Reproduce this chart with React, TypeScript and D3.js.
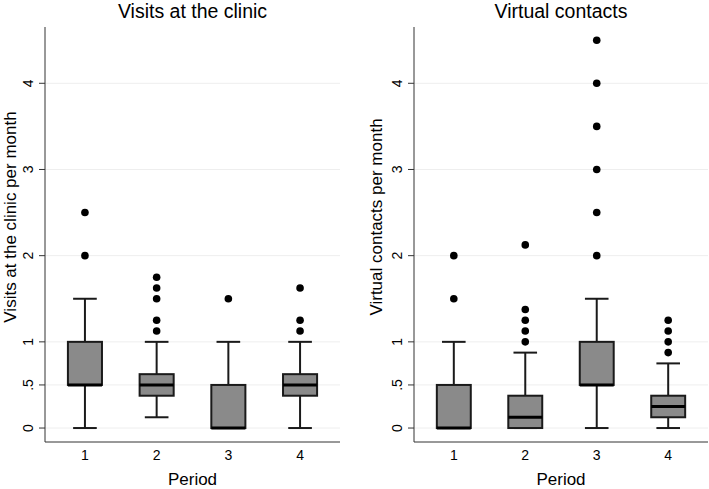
import React from "react";
import * as d3 from "d3";

const periods = ["1", "2", "3", "4"];
const yTicks = [0, 0.5, 1, 2, 3, 4];
const yTickLabels = ["0", ".5", "1", "2", "3", "4"];

// [lowWhisker, q1, median, q3, highWhisker]
const clinicStats = [
  [0, 0.5, 0.5, 1, 1.5],
  [0.125, 0.375, 0.5, 0.625, 1],
  [0, 0, 0, 0.5, 1],
  [0, 0.375, 0.5, 0.625, 1],
];
const clinicOutliers = [
  [2, 2.5],
  [1.125, 1.25, 1.5, 1.625, 1.75],
  [1.5],
  [1.125, 1.25, 1.625],
];

const virtualStats = [
  [0, 0, 0, 0.5, 1],
  [0, 0, 0.125, 0.375, 0.875],
  [0, 0.5, 0.5, 1, 1.5],
  [0, 0.125, 0.25, 0.375, 0.75],
];
const virtualOutliers = [
  [1.5, 2],
  [1, 1.125, 1.25, 1.375, 2.125],
  [2, 2.5, 3, 3.5, 4, 4.5],
  [0.875, 1, 1.125, 1.25],
];

const FONT = "'Liberation Sans', Arial, Helvetica, sans-serif";

type PanelProps = {
  x0: number;
  x1: number;
  title: string;
  yLabel: string;
  yLabelOffset: number;
  stats: number[][];
  outliers: number[][];
};

const Y_TOP = 27;
const Y_BOT = 442;

function Panel({ x0, x1, title, yLabel, yLabelOffset, stats, outliers }: PanelProps) {
  const y = d3.scaleLinear().domain([-0.162, 4.653]).range([Y_BOT, Y_TOP]);
  const x = d3.scalePoint<string>().domain(periods).range([x0, x1]).padding(0.557);
  const step = x.step();
  const bw = step * 0.475;
  const cw = step * 0.33;
  const cx = (x0 + x1) / 2;
  const yMid = 217;
  const stroke = "#1a1a1a";
  return (
    <g>
      <text x={cx} y={18} textAnchor="middle" fontSize={19.5} fontFamily={FONT} fill="#000">
        {title}
      </text>
      {yTicks.map((t) => (
        <line key={"g" + t} x1={x0} x2={x1} y1={y(t)} y2={y(t)} stroke="#eeeeee" strokeWidth={1} />
      ))}
      <line x1={x0} x2={x0} y1={Y_TOP} y2={Y_BOT} stroke="#333" strokeWidth={1} />
      <line x1={x0} x2={x1} y1={Y_BOT} y2={Y_BOT} stroke="#333" strokeWidth={1} />
      {yTicks.map((t, i) => (
        <g key={"t" + t}>
          <line x1={x0 - 6} x2={x0} y1={y(t)} y2={y(t)} stroke="#333" strokeWidth={1} />
          <text
            transform={`translate(${x0 - 12},${y(t)}) rotate(-90)`}
            textAnchor="middle"
            fontSize={14}
            fontFamily={FONT}
            fill="#000"
          >
            {yTickLabels[i]}
          </text>
        </g>
      ))}
      <text
        transform={`translate(${x0 - yLabelOffset},${yMid}) rotate(-90)`}
        textAnchor="middle"
        fontSize={17}
        fontFamily={FONT}
        fill="#000"
      >
        {yLabel}
      </text>
      {periods.map((p) => (
        <text key={"xl" + p} x={x(p)} y={460} textAnchor="middle" fontSize={14} fontFamily={FONT} fill="#000">
          {p}
        </text>
      ))}
      <text x={cx} y={485} textAnchor="middle" fontSize={17} fontFamily={FONT} fill="#000">
        Period
      </text>
      {periods.map((p, i) => {
        const [lo, q1, med, q3, hi] = stats[i];
        const px = x(p) as number;
        return (
          <g key={"b" + p}>
            <line x1={px} x2={px} y1={y(q3)} y2={y(hi)} stroke={stroke} strokeWidth={2} />
            <line x1={px} x2={px} y1={y(q1)} y2={y(lo)} stroke={stroke} strokeWidth={2} />
            <line x1={px - cw / 2} x2={px + cw / 2} y1={y(hi)} y2={y(hi)} stroke={stroke} strokeWidth={2} />
            <line x1={px - cw / 2} x2={px + cw / 2} y1={y(lo)} y2={y(lo)} stroke={stroke} strokeWidth={2} />
            <rect
              x={px - bw / 2}
              y={y(q3)}
              width={bw}
              height={Math.max(0, y(q1) - y(q3))}
              fill="#8a8a8a"
              stroke={stroke}
              strokeWidth={2}
            />
            <line x1={px - bw / 2} x2={px + bw / 2} y1={y(med)} y2={y(med)} stroke="#000" strokeWidth={3} />
            {outliers[i].map((o) => (
              <circle key={o} cx={px} cy={y(o)} r={3.8} fill="#000" />
            ))}
          </g>
        );
      })}
    </g>
  );
}

export default function App() {
  return (
    <svg
      width={709}
      height={489}
      style={{ position: "absolute", left: 0, top: 0, background: "#fff" }}
    >
      <rect width={709} height={489} fill="#fff" />
      <Panel
        x0={45}
        x1={340}
        title="Visits at the clinic"
        yLabel="Visits at the clinic per month"
        yLabelOffset={29.5}
        stats={clinicStats}
        outliers={clinicOutliers}
      />
      <Panel
        x0={414}
        x1={708}
        title="Virtual contacts"
        yLabel="Virtual contacts per month"
        yLabelOffset={32}
        stats={virtualStats}
        outliers={virtualOutliers}
      />
    </svg>
  );
}
